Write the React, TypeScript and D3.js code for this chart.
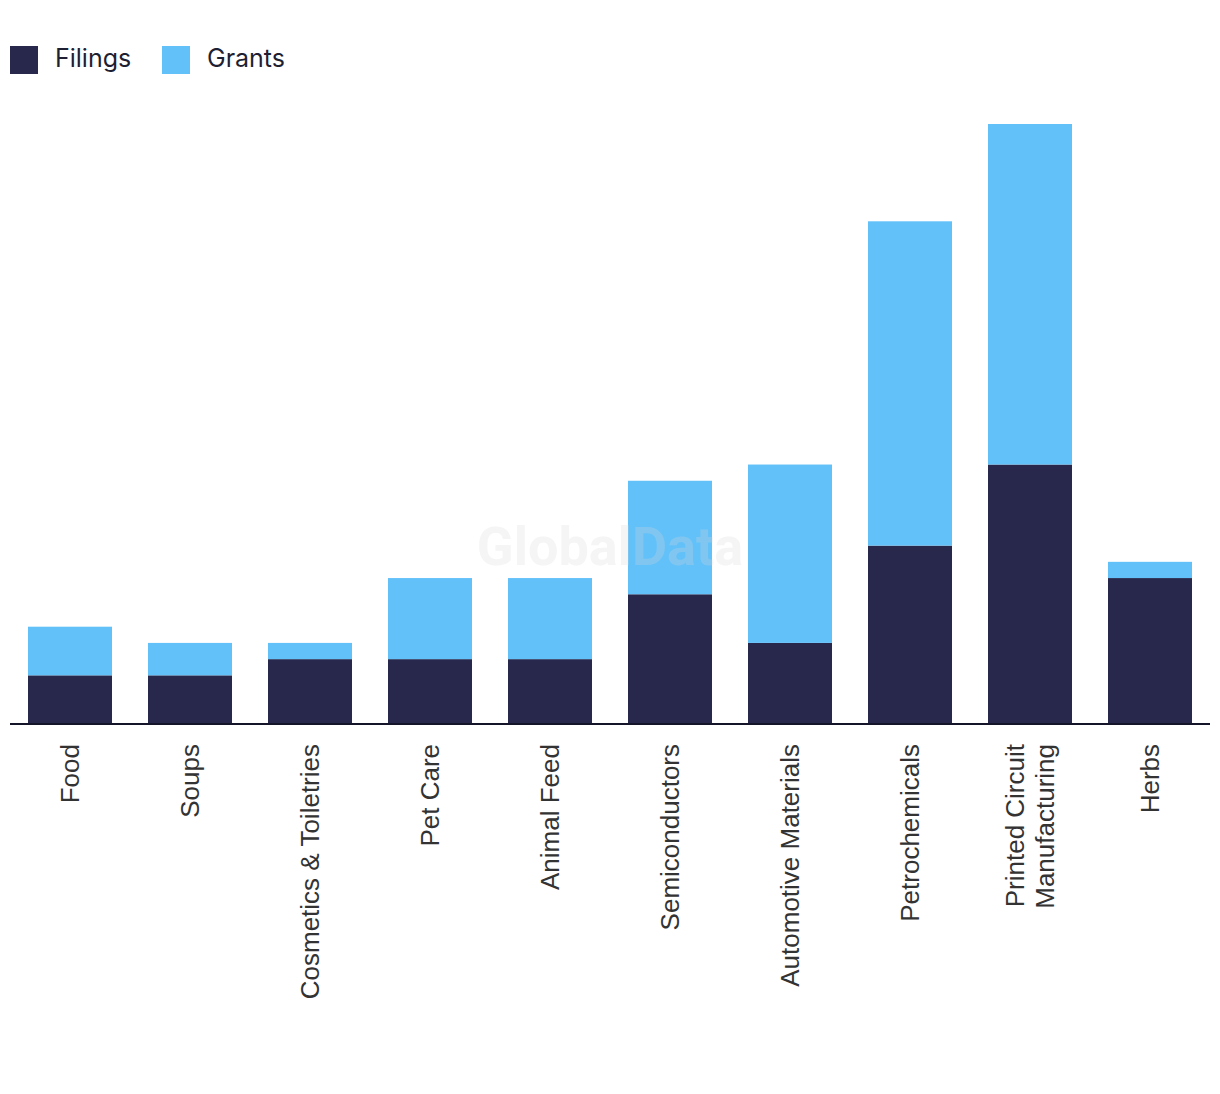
import React, { useRef, useEffect } from "react";
import * as d3 from "d3";

const CATEGORIES = [
  "Food",
  "Soups",
  "Cosmetics & Toiletries",
  "Pet Care",
  "Animal Feed",
  "Semiconductors",
  "Automotive Materials",
  "Petrochemicals",
  "Printed Circuit Manufacturing",
  "Herbs",
];
const LABEL_LINES: string[][] = [
  ["Food"],
  ["Soups"],
  ["Cosmetics & Toiletries"],
  ["Pet Care"],
  ["Animal Feed"],
  ["Semiconductors"],
  ["Automotive Materials"],
  ["Petrochemicals"],
  ["Printed Circuit", "Manufacturing"],
  ["Herbs"],
];
const FILINGS = [3, 3, 4, 4, 4, 8, 5, 11, 16, 9];
const GRANTS = [3, 2, 1, 5, 5, 7, 11, 20, 21, 1];
const SERIES = ["Filings", "Grants"];
const COLORS = ["#27284b", "#63c1f9"];

const WIDTH = 1220;
const HEIGHT = 1094;

export default function App() {
  const svgRef = useRef<SVGSVGElement>(null);

  useEffect(() => {
    if (!svgRef.current) return;
    const svg = d3.select(svgRef.current);
    svg.selectAll("*").remove();

    const left = 10;
    const right = 1210;
    const baseline = 724;
    const top = 124;

    const x = d3
      .scaleBand<string>()
      .domain(CATEGORIES)
      .range([left, right])
      .paddingInner(0.3)
      .paddingOuter(0.15);
    const y = d3.scaleLinear().domain([0, 37]).range([baseline, top]);

    const stack = d3
      .stack<number>()
      .keys(["0", "1"])
      .value((i, k) => (k === "0" ? FILINGS[i] : GRANTS[i]));
    const stacked = stack(CATEGORIES.map((_, i) => i));

    stacked.forEach((layer, li) => {
      svg
        .append("g")
        .attr("fill", COLORS[li])
        .selectAll("rect")
        .data(layer)
        .join("rect")
        .attr("x", (d) => x(CATEGORIES[d.data])!)
        .attr("width", x.bandwidth())
        .attr("y", (d) => y(d[1]))
        .attr("height", (d) => y(d[0]) - y(d[1]));
    });

    // watermark (on top of bars, faint)
    svg
      .append("text")
      .attr("x", 610)
      .attr("y", 565)
      .attr("text-anchor", "middle")
      .style("font-family", "Roboto, 'Liberation Sans', sans-serif")
      .style("font-weight", "bold")
      .style("font-size", "54px")
      .style("fill", "#d8d8d8")
      .style("opacity", 0.25)
      .text("GlobalData");

    // axis line
    svg
      .append("line")
      .attr("x1", left)
      .attr("x2", right)
      .attr("y1", baseline)
      .attr("y2", baseline)
      .attr("stroke", "#15152a")
      .attr("stroke-width", 2);

    // category labels
    CATEGORIES.forEach((c, i) => {
      const cx = x(c)! + x.bandwidth() / 2;
      const lines = LABEL_LINES[i];
      const t = svg
        .append("text")
        .attr("transform", `translate(${cx},744) rotate(-90)`)
        .attr("text-anchor", "end")
        .style("font-family", "'Liberation Sans', Arial, sans-serif")
        .style("font-size", "26px")
        .style("fill", "#333");
      lines.forEach((ln, j) => {
        t.append("tspan")
          .attr("x", 0)
          .attr("y", (j - (lines.length - 1) / 2) * 30)
          .attr("dy", "0.35em")
          .text(ln);
      });
    });

    // legend
    const legendX = [10, 162];
    SERIES.forEach((s, i) => {
      const g = svg.append("g").attr("transform", `translate(${legendX[i]},46)`);
      g.append("rect").attr("width", 28).attr("height", 28).attr("fill", COLORS[i]);
      g.append("text")
        .attr("x", 45)
        .attr("y", 21)
        .style("font-family", "Inter, 'Noto Sans', sans-serif")
        .style("font-size", "25px")
        .style("fill", "#1f1f33")
        .text(s);
    });
  }, []);

  return (
    <svg
      ref={svgRef}
      width={WIDTH}
      height={HEIGHT}
      style={{ display: "block", position: "absolute", left: 0, top: 0 }}
      viewBox={`0 0 ${WIDTH} ${HEIGHT}`}
    />
  );
}
